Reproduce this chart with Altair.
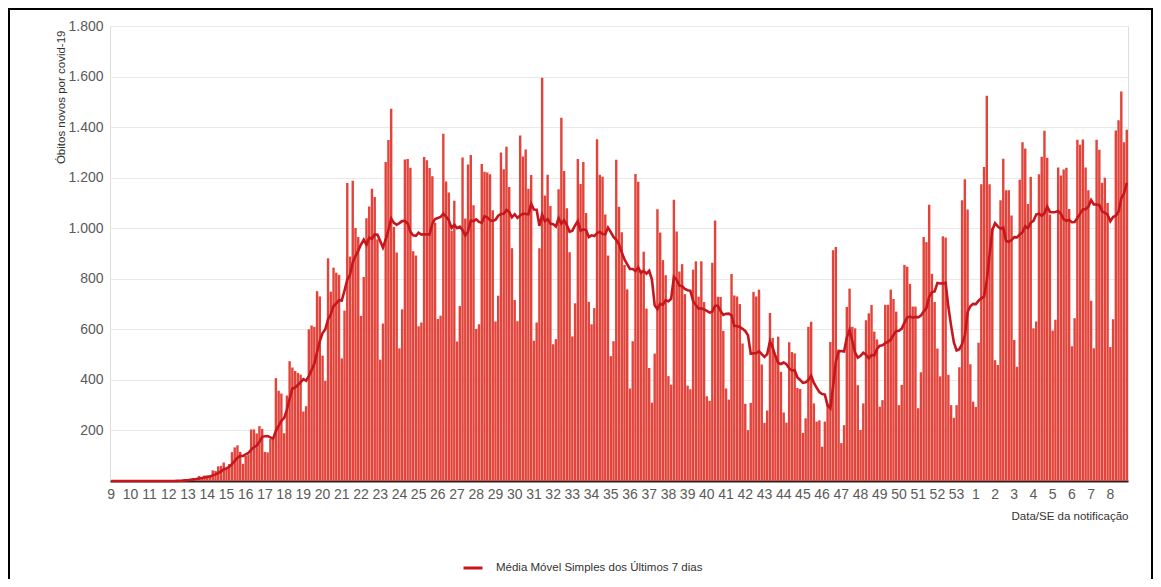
import altair as alt
import pandas as pd

# Daily new deaths (Brazil), 2020-02-23 .. 2021-02-27, one value per day
FEB_2020 = [0, 0, 0, 0, 0, 0, 0]
MAR_2020 = [0, 0, 0, 0, 0, 0, 0, 0, 0, 0, 0, 0, 0, 0, 0, 0,
            1, 2, 3, 5, 7, 7, 9, 12, 11, 20, 15, 22, 22, 23, 42]
APR_2020 = [40, 58, 60, 73, 54, 67, 114, 133, 141, 115,
            68, 99, 105, 204, 204, 188, 217, 206, 115, 113,
            166, 165, 407, 357, 346, 189, 338, 474, 449, 435]
MAY_2020 = [428, 421, 275, 296, 600, 615, 610, 751, 730, 496,
            396, 881, 749, 844, 824, 816, 485, 674, 1179, 888,
            1188, 1001, 965, 653, 807, 1039, 1086, 1156, 1124, 956, 480]
JUN_2020 = [623, 1262, 1349, 1473, 1005, 904, 525, 679, 1272, 1274,
            1239, 909, 892, 612, 627, 1282, 1269, 1238, 1206, 1022,
            641, 654, 1374, 1185, 1141, 990, 1109, 552, 692, 1280]
JUL_2020 = [1038, 1252, 1290, 1091, 602, 620, 1254, 1223, 1220, 1214,
            1071, 631, 733, 1300, 1233, 1322, 1163, 921, 716, 632,
            1367, 1284, 1311, 1156, 1211, 555, 627, 921, 1595, 1129, 1212]
AUG_2020 = [1088, 541, 561, 1154, 1437, 1226, 1079, 905, 572, 703,
            1274, 1175, 1262, 1060, 709, 620, 684, 1352, 1212, 1204,
            1054, 892, 494, 553, 1271, 1085, 984, 855, 758, 366, 553]
SEP_2020 = [1215, 1184, 834, 907, 682, 447, 310, 504, 1075, 983,
            874, 814, 415, 381, 1113, 987, 829, 858, 739, 377,
            363, 836, 869, 729, 869, 708, 335, 317, 863, 1031]
OCT_2020 = [729, 728, 594, 366, 322, 819, 734, 730, 700, 544,
            305, 201, 309, 748, 730, 757, 461, 230, 279, 665,
            566, 497, 571, 432, 271, 231, 549, 510, 505, 368, 364]
NOV_2020 = [190, 248, 610, 630, 307, 235, 240, 136, 235, 307,
            550, 913, 926, 520, 150, 221, 689, 761, 610, 604,
            379, 202, 307, 636, 663, 696, 591, 560, 294, 320]
DEC_2020 = [697, 697, 757, 720, 670, 300, 380, 855, 848, 780,
            690, 690, 288, 430, 965, 945, 1093, 820, 708, 524,
            414, 968, 963, 420, 300, 250, 300, 450, 1111, 1194, 1074]
JAN_2021 = [462, 314, 293, 547, 1174, 1242, 1524, 1174, 1000, 478,
            459, 1111, 1275, 1150, 1150, 1050, 558, 452, 1192, 1340,
            1315, 1096, 1203, 604, 631, 1214, 1283, 1386, 1279, 1054, 595]
FEB_2021 = [638, 1240, 1209, 1232, 1239, 1076, 533, 644, 1350, 1330,
            1351, 1240, 1150, 713, 525, 1350, 1310, 1180, 1200, 1100,
            530, 640, 1387, 1427, 1541, 1340, 1390]

# Epidemiological week labels (one per week, shown on the week's first day)
WEEK_LABELS = ["9", "10", "11", "12", "13", "14", "15", "16", "17", "18",
               "19", "20", "21", "22", "23", "24", "25", "26", "27", "28",
               "29", "30", "31", "32", "33", "34", "35", "36", "37", "38",
               "39", "40", "41", "42", "43", "44", "45", "46", "47", "48",
               "49", "50", "51", "52", "53", "1", "2", "3", "4", "5",
               "6", "7", "8"]
Y_TICKS = [0, 200, 400, 600, 800, 1000, 1200, 1400, 1600, 1800]

SERIES_NAME = "Média Móvel Simples dos Últimos 7 dias"

deaths = (FEB_2020 + MAR_2020 + APR_2020 + MAY_2020 + JUN_2020 + JUL_2020 +
          AUG_2020 + SEP_2020 + OCT_2020 + NOV_2020 + DEC_2020 + JAN_2021 + FEB_2021)
df = pd.DataFrame({"dia": list(range(len(deaths))), "obitos": deaths})

week_start = [k * 7 for k in range(len(WEEK_LABELS))]
label_arr = "[" + ",".join("'" + w + "'" for w in WEEK_LABELS) + "]"

FONT = "Liberation Sans"

x_enc = alt.X(
    "dia:O",
    scale=alt.Scale(paddingInner=0.12, paddingOuter=0),
    axis=alt.Axis(
        values=week_start,
        labelExpr=label_arr + "[datum.value / 7]",
        labelAngle=0,
        labelOverlap=False,
        labelFontSize=14,
        labelColor="#5a5a5a",
        labelFont=FONT,
        labelPadding=6,
        ticks=False,
        domainColor="#222222",
        domainWidth=2,
        grid=False,
        title="Data/SE da notificação",
        titleFont=FONT,
        titleFontSize=11.5,
        titleFontWeight="normal",
        titleColor="#333333",
        titleAlign="right",
        titleBaseline="middle",
        titleX=1018,
        titleY=35,
    ),
)

y_scale = alt.Scale(domain=[0, 1800], nice=False)

bars = alt.Chart(df).mark_bar(color="#e2443b").encode(
    x=x_enc,
    y=alt.Y(
        "obitos:Q",
        scale=y_scale,
        axis=alt.Axis(
            values=Y_TICKS,
            labelExpr="datum.value == 0 ? '' : replace(format(datum.value, ','), ',', '.')",
            labelFontSize=14,
            labelColor="#5a5a5a",
            labelFont=FONT,
            labelPadding=7,
            ticks=False,
            domain=False,
            gridColor="#e9e9e9",
            gridWidth=1,
            title="Óbitos novos por covid-19",
            titleFont=FONT,
            titleFontSize=11.5,
            titleFontWeight="normal",
            titleColor="#333333",
            titleAngle=-90,
            titleAlign="right",
            titleBaseline="middle",
            titleX=-49,
            titleY=4,
        ),
    ),
)

line = alt.Chart(df).transform_window(
    media="mean(obitos)", frame=[-6, 0], sort=[alt.SortField("dia")]
).transform_calculate(
    serie="'" + SERIES_NAME + "'"
).mark_line(strokeWidth=2.6).encode(
    x=alt.X("dia:O"),
    y=alt.Y("media:Q", scale=y_scale),
    color=alt.Color(
        "serie:N",
        scale=alt.Scale(range=["#c8161d"]),
        legend=alt.Legend(
            title=None,
            orient="none",
            legendX=352,
            legendY=531,
            symbolType="stroke",
            symbolStrokeWidth=3,
            symbolSize=360,
            labelFont=FONT,
            labelFontSize=11.5,
            labelColor="#333333",
            labelOffset=12,
            labelLimit=0,
        ),
    ),
)

frame = alt.Chart(pd.DataFrame({"k": [0]})).mark_rect(
    fillOpacity=0, stroke="#000000", strokeWidth=2
).encode(
    x=alt.value(-101), x2=alt.value(1042), y=alt.value(-17), y2=alt.value(600)
)

chart = alt.layer(bars, line, frame).properties(
    width=1018,
    height=455,
    autosize=alt.AutoSizeParams(type="none"),
    padding={"left": 102, "top": 18, "right": 25, "bottom": 98},
).configure_view(stroke=None).configure(background="white")

chart.save("out.html", embed_options={"renderer": "svg", "actions": False})
